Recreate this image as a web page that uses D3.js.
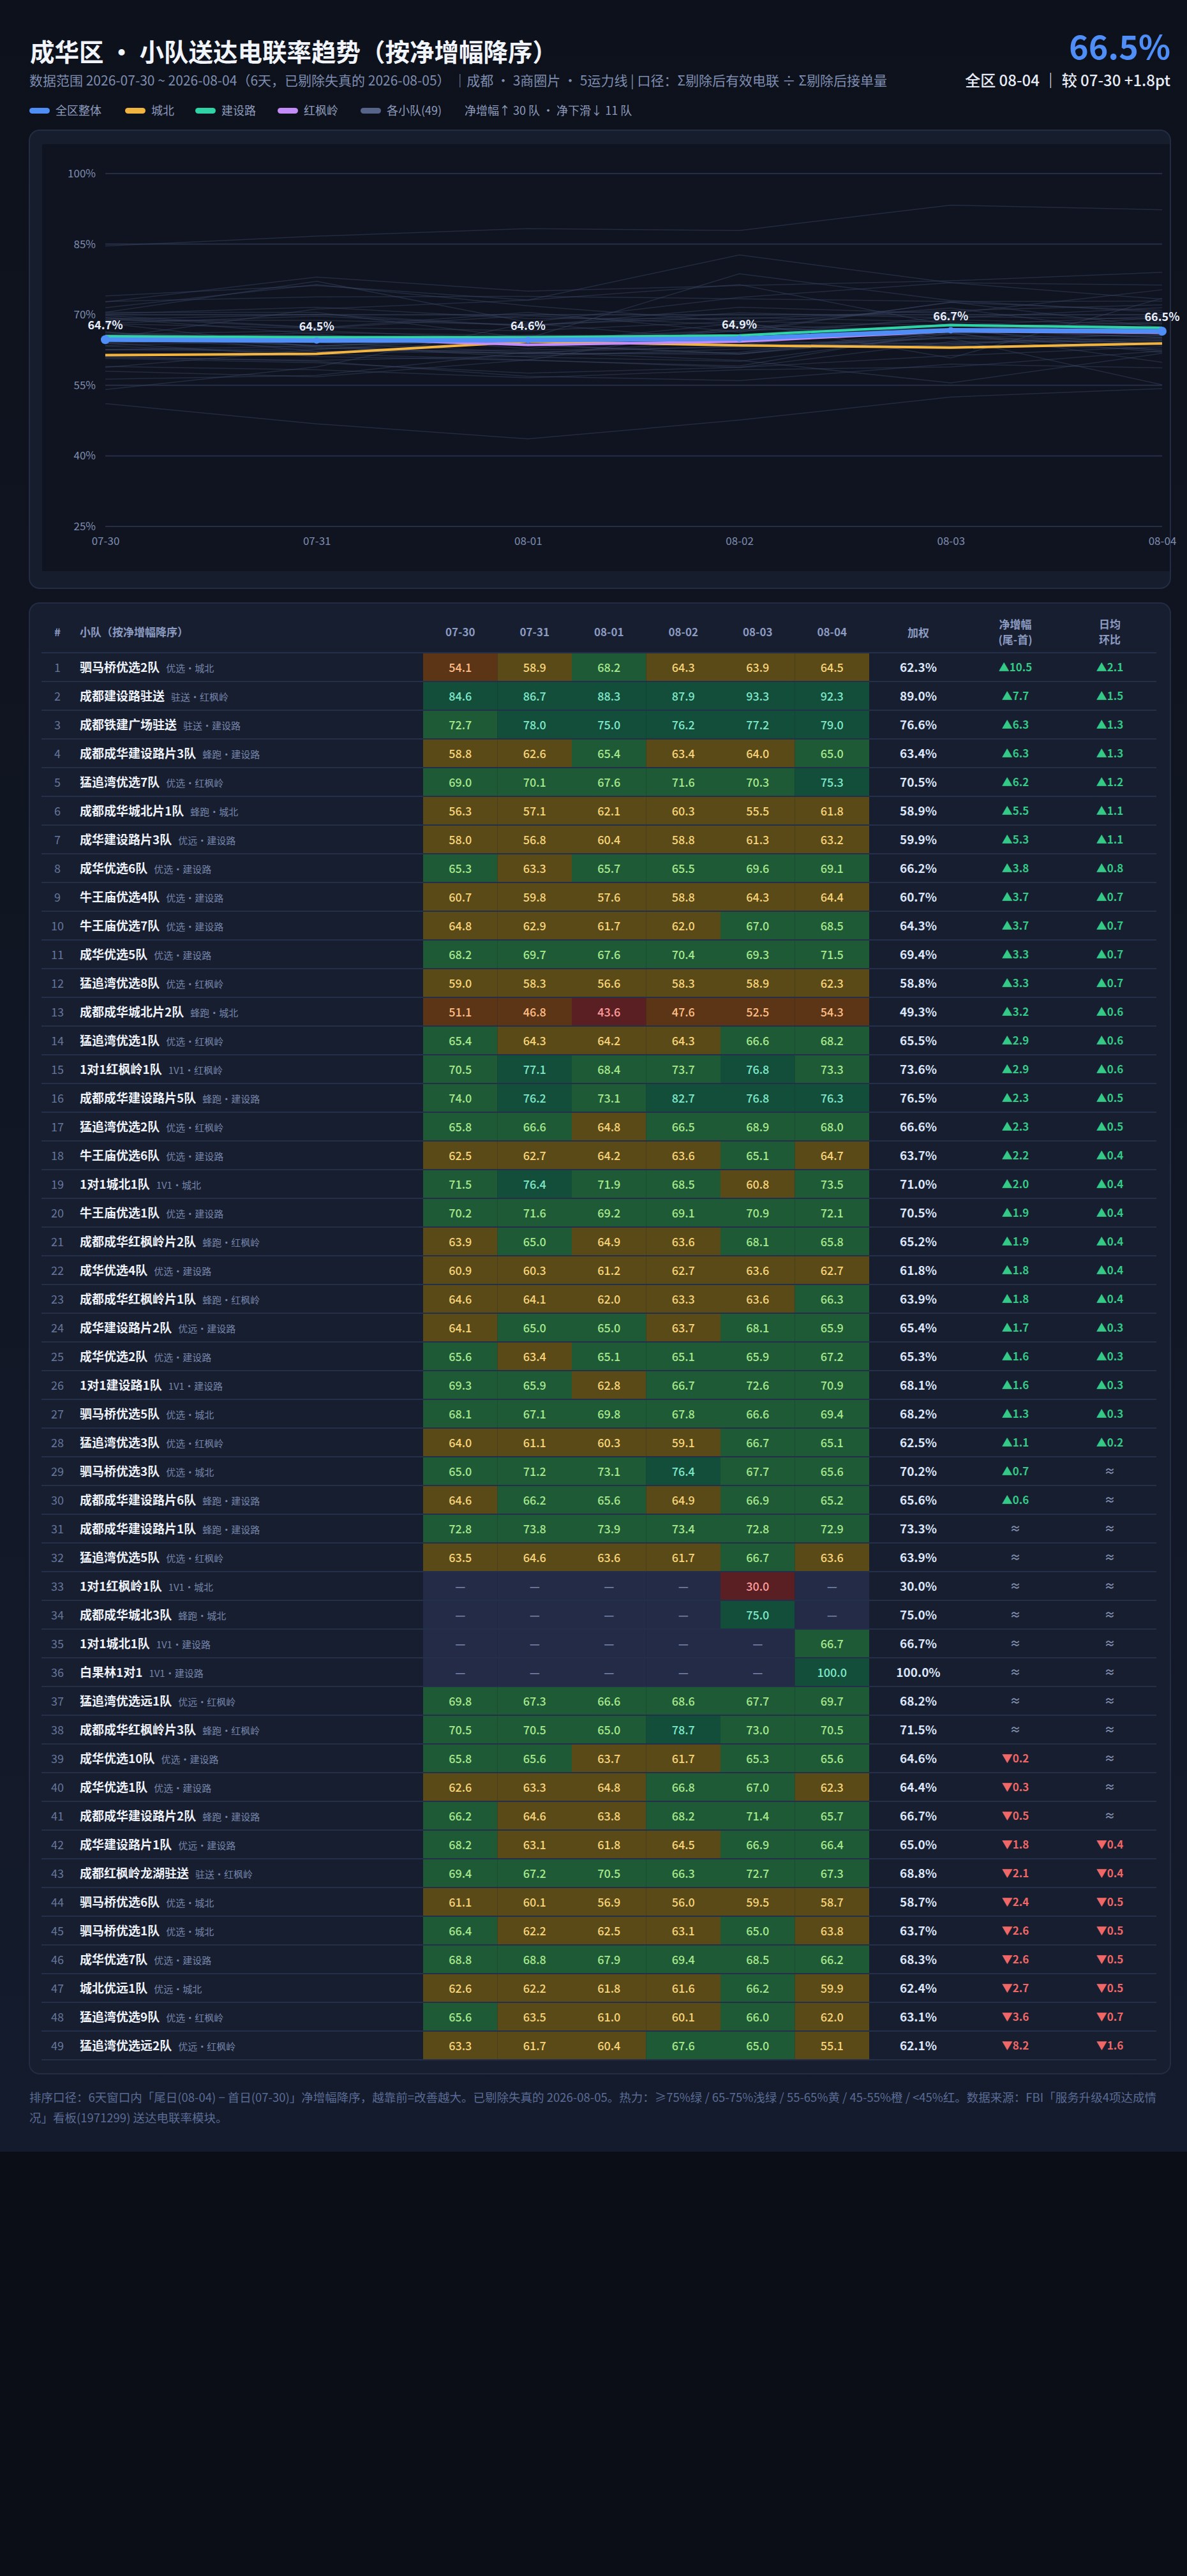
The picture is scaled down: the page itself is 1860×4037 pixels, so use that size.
<!DOCTYPE html>
<html>
<head>
<meta charset="utf-8">
<script src="https://cdn.jsdelivr.net/npm/d3@7"></script>
<style>
  html, body { margin: 0; padding: 0; background: #0b0e16; }
  svg { display: block; font-family: "Noto Sans CJK SC", "Noto Sans", sans-serif; }
</style>
</head>
<body>
<div id="page"></div>
<script>
// ---- data ----
const dates = ['07-30', '07-31', '08-01', '08-02', '08-03', '08-04'];
const overall = [64.7, 64.5, 64.6, 64.9, 66.7, 66.5];
const regionNames = ['城北', '建设路', '红枫岭'];
const regionChengbei = [61.4, 61.7, 64.3, 63.5, 63.0, 63.9];
const regionJianshelu = [65.4, 65.2, 65.2, 65.6, 67.8, 67.2];
const regionHongfengling = [65.2, 65.0, 63.6, 64.3, 66.5, 66.2];
const yTicks = [25, 40, 55, 70, 85, 100];

const teamNames = [
  '驷马桥优选2队', '成都建设路驻送', '成都铁建广场驻送', '成都成华建设路片3队', '猛追湾优选7队',
  '成都成华城北片1队', '成华建设路片3队', '成华优选6队', '牛王庙优选4队', '牛王庙优选7队',
  '成华优选5队', '猛追湾优选8队', '成都成华城北片2队', '猛追湾优选1队', '1对1红枫岭1队',
  '成都成华建设路片5队', '猛追湾优选2队', '牛王庙优选6队', '1对1城北1队', '牛王庙优选1队',
  '成都成华红枫岭片2队', '成华优选4队', '成都成华红枫岭片1队', '成华建设路片2队', '成华优选2队',
  '1对1建设路1队', '驷马桥优选5队', '猛追湾优选3队', '驷马桥优选3队', '成都成华建设路片6队',
  '成都成华建设路片1队', '猛追湾优选5队', '1对1红枫岭1队', '成都成华城北3队', '1对1城北1队',
  '白果林1对1', '猛追湾优选远1队', '成都成华红枫岭片3队', '成华优选10队', '成华优选1队',
  '成都成华建设路片2队', '成华建设路片1队', '成都红枫岭龙湖驻送', '驷马桥优选6队', '驷马桥优选1队',
  '成华优选7队', '城北优远1队', '猛追湾优选9队', '猛追湾优选远2队'
];
const teamTags = [
  '优选·城北', '驻送·红枫岭', '驻送·建设路', '蜂跑·建设路', '优选·红枫岭',
  '蜂跑·城北', '优远·建设路', '优选·建设路', '优选·建设路', '优选·建设路',
  '优选·建设路', '优选·红枫岭', '蜂跑·城北', '优选·红枫岭', '1V1·红枫岭',
  '蜂跑·建设路', '优选·红枫岭', '优选·建设路', '1V1·城北', '优选·建设路',
  '蜂跑·红枫岭', '优选·建设路', '蜂跑·红枫岭', '优远·建设路', '优选·建设路',
  '1V1·建设路', '优选·城北', '优选·红枫岭', '优选·城北', '蜂跑·建设路',
  '蜂跑·建设路', '优选·红枫岭', '1V1·城北', '蜂跑·城北', '1V1·建设路',
  '1V1·建设路', '优远·红枫岭', '蜂跑·红枫岭', '优选·建设路', '优选·建设路',
  '蜂跑·建设路', '优远·建设路', '驻送·红枫岭', '优选·城北', '优选·城北',
  '优选·建设路', '优远·城北', '优选·红枫岭', '优远·红枫岭'
];
const teamRates = [
  [54.1, 58.9, 68.2, 64.3, 63.9, 64.5],
  [84.6, 86.7, 88.3, 87.9, 93.3, 92.3],
  [72.7, 78.0, 75.0, 76.2, 77.2, 79.0],
  [58.8, 62.6, 65.4, 63.4, 64.0, 65.0],
  [69.0, 70.1, 67.6, 71.6, 70.3, 75.3],
  [56.3, 57.1, 62.1, 60.3, 55.5, 61.8],
  [58.0, 56.8, 60.4, 58.8, 61.3, 63.2],
  [65.3, 63.3, 65.7, 65.5, 69.6, 69.1],
  [60.7, 59.8, 57.6, 58.8, 64.3, 64.4],
  [64.8, 62.9, 61.7, 62.0, 67.0, 68.5],
  [68.2, 69.7, 67.6, 70.4, 69.3, 71.5],
  [59.0, 58.3, 56.6, 58.3, 58.9, 62.3],
  [51.1, 46.8, 43.6, 47.6, 52.5, 54.3],
  [65.4, 64.3, 64.2, 64.3, 66.6, 68.2],
  [70.5, 77.1, 68.4, 73.7, 76.8, 73.3],
  [74.0, 76.2, 73.1, 82.7, 76.8, 76.3],
  [65.8, 66.6, 64.8, 66.5, 68.9, 68.0],
  [62.5, 62.7, 64.2, 63.6, 65.1, 64.7],
  [71.5, 76.4, 71.9, 68.5, 60.8, 73.5],
  [70.2, 71.6, 69.2, 69.1, 70.9, 72.1],
  [63.9, 65.0, 64.9, 63.6, 68.1, 65.8],
  [60.9, 60.3, 61.2, 62.7, 63.6, 62.7],
  [64.6, 64.1, 62.0, 63.3, 63.6, 66.3],
  [64.1, 65.0, 65.0, 63.7, 68.1, 65.9],
  [65.6, 63.4, 65.1, 65.1, 65.9, 67.2],
  [69.3, 65.9, 62.8, 66.7, 72.6, 70.9],
  [68.1, 67.1, 69.8, 67.8, 66.6, 69.4],
  [64.0, 61.1, 60.3, 59.1, 66.7, 65.1],
  [65.0, 71.2, 73.1, 76.4, 67.7, 65.6],
  [64.6, 66.2, 65.6, 64.9, 66.9, 65.2],
  [72.8, 73.8, 73.9, 73.4, 72.8, 72.9],
  [63.5, 64.6, 63.6, 61.7, 66.7, 63.6],
  [null, null, null, null, 30.0, null],
  [null, null, null, null, 75.0, null],
  [null, null, null, null, null, 66.7],
  [null, null, null, null, null, 100.0],
  [69.8, 67.3, 66.6, 68.6, 67.7, 69.7],
  [70.5, 70.5, 65.0, 78.7, 73.0, 70.5],
  [65.8, 65.6, 63.7, 61.7, 65.3, 65.6],
  [62.6, 63.3, 64.8, 66.8, 67.0, 62.3],
  [66.2, 64.6, 63.8, 68.2, 71.4, 65.7],
  [68.2, 63.1, 61.8, 64.5, 66.9, 66.4],
  [69.4, 67.2, 70.5, 66.3, 72.7, 67.3],
  [61.1, 60.1, 56.9, 56.0, 59.5, 58.7],
  [66.4, 62.2, 62.5, 63.1, 65.0, 63.8],
  [68.8, 68.8, 67.9, 69.4, 68.5, 66.2],
  [62.6, 62.2, 61.8, 61.6, 66.2, 59.9],
  [65.6, 63.5, 61.0, 60.1, 66.0, 62.0],
  [63.3, 61.7, 60.4, 67.6, 65.0, 55.1]
];
const teamWeighted = [
  62.3, 89.0, 76.6, 63.4, 70.5, 58.9, 59.9, 66.2, 60.7, 64.3,
  69.4, 58.8, 49.3, 65.5, 73.6, 76.5, 66.6, 63.7, 71.0, 70.5,
  65.2, 61.8, 63.9, 65.4, 65.3, 68.1, 68.2, 62.5, 70.2, 65.6,
  73.3, 63.9, 30.0, 75.0, 66.7, 100.0, 68.2, 71.5, 64.6, 64.4,
  66.7, 65.0, 68.8, 58.7, 63.7, 68.3, 62.4, 63.1, 62.1
];
// 0 = shown as ≈
const teamNet = [
  10.5, 7.7, 6.3, 6.3, 6.2, 5.5, 5.3, 3.8, 3.7, 3.7,
  3.3, 3.3, 3.2, 2.9, 2.9, 2.3, 2.3, 2.2, 2.0, 1.9,
  1.9, 1.8, 1.8, 1.7, 1.6, 1.6, 1.3, 1.1, 0.7, 0.6,
  0, 0, 0, 0, 0, 0, 0, 0, -0.2, -0.3,
  -0.5, -1.8, -2.1, -2.4, -2.6, -2.6, -2.7, -3.6, -8.2
];
const teamDaily = [
  2.1, 1.5, 1.3, 1.3, 1.2, 1.1, 1.1, 0.8, 0.7, 0.7,
  0.7, 0.7, 0.6, 0.6, 0.6, 0.5, 0.5, 0.4, 0.4, 0.4,
  0.4, 0.4, 0.4, 0.3, 0.3, 0.3, 0.3, 0.2, 0, 0,
  0, 0, 0, 0, 0, 0, 0, 0, 0, 0,
  0, -0.4, -0.4, -0.5, -0.5, -0.5, -0.5, -0.7, -1.6
];

// ---- page ----
const width = 1860;
const height = 4037;
const pageBottom = 3372;
const cardLeft = 46;
const cardRight = 1834;

const svg = d3
  .select('#page')
  .append('svg')
  .attr('width', width)
  .attr('height', height);

const defs = svg.append('defs');
const bgGrad = defs
  .append('linearGradient')
  .attr('id', 'pageBg')
  .attr('x1', 0).attr('y1', 0).attr('x2', 0).attr('y2', 1);
bgGrad.append('stop').attr('offset', '0%').attr('stop-color', '#0d111b');
bgGrad.append('stop').attr('offset', '100%').attr('stop-color', '#141b2c');

svg.append('rect').attr('width', width).attr('height', height).attr('fill', '#0b0e16');
svg.append('rect').attr('width', width).attr('height', pageBottom).attr('fill', 'url(#pageBg)');

// header
svg.append('text')
  .attr('x', 47).attr('y', 96)
  .style('font-size', '38.5px').style('font-weight', 700)
  .attr('fill', '#f1f4fb')
  .text('成华区 · 小队送达电联率趋势（按净增幅降序）');

svg.append('text')
  .attr('x', 46).attr('y', 134)
  .style('font-size', '21px')
  .attr('fill', '#7e8db0')
  .text('数据范围 2026-07-30 ~ 2026-08-04（6天，已剔除失真的 2026-08-05） ｜成都 · 3商圈片 · 5运力线 | 口径：Σ剔除后有效电联 ÷ Σ剔除后接单量');

svg.append('text')
  .attr('x', cardRight).attr('y', 93)
  .attr('text-anchor', 'end')
  .style('font-size', '52px').style('font-weight', 700)
  .attr('fill', '#4f8ef7')
  .text(`${overall[overall.length - 1].toFixed(1)}%`);

const diff = overall[overall.length - 1] - overall[0];
svg.append('text')
  .attr('x', cardRight).attr('y', 135)
  .attr('text-anchor', 'end')
  .style('font-size', '24px').style('font-weight', 500)
  .attr('fill', '#e6ebf5')
  .text(`全区 ${dates[dates.length - 1]} ｜ 较 ${dates[0]} ${diff >= 0 ? '+' : ''}${diff.toFixed(1)}pt`);

// legend
const seriesColors = {
  overall: '#4f8ef7',
  城北: '#f2b441',
  建设路: '#2fd3a6',
  红枫岭: '#c38cf8',
  team: '#56648a'
};
const upCount = teamNet.filter((d) => d > 0).length;
const downCount = teamNet.filter((d) => d < 0).length;
const legendItems = [
  { label: '全区整体', color: seriesColors.overall, x: 46 },
  { label: regionNames[0], color: seriesColors[regionNames[0]], x: 196 },
  { label: regionNames[1], color: seriesColors[regionNames[1]], x: 306 },
  { label: regionNames[2], color: seriesColors[regionNames[2]], x: 435 },
  { label: `各小队(${teamNames.length})`, color: seriesColors.team, x: 565 }
];
const legend = svg.append('g');
legendItems.forEach((item) => {
  legend.append('rect')
    .attr('x', item.x).attr('y', 169)
    .attr('width', 32).attr('height', 9).attr('rx', 4.5)
    .attr('fill', item.color);
  legend.append('text')
    .attr('x', item.x + 41).attr('y', 180)
    .style('font-size', '18px')
    .attr('fill', '#8d9bbd')
    .text(item.label);
});
legend.append('text')
  .attr('x', 728).attr('y', 180)
  .style('font-size', '18px')
  .attr('fill', '#8d9bbd')
  .text(`净增幅↑ ${upCount} 队 · 净下滑↓ ${downCount} 队`);

// ---- trend chart ----
svg.append('rect')
  .attr('x', cardLeft).attr('y', 204)
  .attr('width', cardRight - cardLeft).attr('height', 718)
  .attr('rx', 16)
  .attr('fill', '#161d2d')
  .attr('stroke', '#232c43').attr('stroke-width', 2);
svg.append('rect')
  .attr('x', 66).attr('y', 226)
  .attr('width', cardRight - 1 - 66).attr('height', 669)
  .attr('fill', '#0f1420');

const xScale = d3.scalePoint().domain(dates).range([165, 1821]);
const yScale = d3.scaleLinear().domain([25, 100]).range([825, 272]);

const grid = svg.append('g');
grid.selectAll('line')
  .data(yTicks)
  .enter()
  .append('line')
  .attr('x1', 165).attr('x2', 1821)
  .attr('y1', (d) => yScale(d)).attr('y2', (d) => yScale(d))
  .attr('stroke', '#252e45').attr('stroke-width', 2);

const yAxis = d3.axisLeft(yScale).tickValues(yTicks).tickFormat((d) => `${d}%`).tickSize(0).tickPadding(0);
const yAxisGroup = svg.append('g').attr('transform', 'translate(150,0)').call(yAxis);
yAxisGroup.select('.domain').remove();
yAxisGroup.selectAll('text')
  .style('font-size', '17px')
  .style('font-family', '"Noto Sans CJK SC", "Noto Sans", sans-serif')
  .attr('fill', '#7f8db0');

const xAxis = d3.axisBottom(xScale).tickSize(0).tickPadding(0);
const xAxisGroup = svg.append('g').attr('transform', 'translate(0,842)').call(xAxis);
xAxisGroup.select('.domain').remove();
xAxisGroup.selectAll('text')
  .style('font-size', '17px')
  .style('font-family', '"Noto Sans CJK SC", "Noto Sans", sans-serif')
  .attr('fill', '#7f8db0');

const line = d3
  .line()
  .defined((d) => d != null)
  .x((d, i) => xScale(dates[i]))
  .y((d) => yScale(d));

svg.append('g')
  .selectAll('path')
  .data(teamRates)
  .enter()
  .append('path')
  .attr('d', (d) => line(d))
  .attr('fill', 'none')
  .attr('stroke', '#3b4766')
  .attr('stroke-opacity', 0.45)
  .attr('stroke-width', 1.5);

const regionSeries = [
  { name: regionNames[0], values: regionChengbei },
  { name: regionNames[2], values: regionHongfengling },
  { name: regionNames[1], values: regionJianshelu }
];
svg.append('g')
  .selectAll('path')
  .data(regionSeries)
  .enter()
  .append('path')
  .attr('d', (d) => line(d.values))
  .attr('fill', 'none')
  .attr('stroke', (d) => seriesColors[d.name])
  .attr('stroke-width', 4)
  .attr('stroke-linejoin', 'round');

svg.append('path')
  .attr('d', line(overall))
  .attr('fill', 'none')
  .attr('stroke', seriesColors.overall)
  .attr('stroke-width', 7)
  .attr('stroke-linejoin', 'round');

svg.append('g')
  .selectAll('circle')
  .data(overall)
  .enter()
  .append('circle')
  .attr('cx', (d, i) => xScale(dates[i]))
  .attr('cy', (d) => yScale(d))
  .attr('r', (d, i) => (i === 0 || i === overall.length - 1 ? 7 : 5))
  .attr('fill', seriesColors.overall);

svg.append('g')
  .selectAll('text')
  .data(overall)
  .enter()
  .append('text')
  .attr('x', (d, i) => xScale(dates[i]))
  .attr('y', (d) => yScale(d) - 16)
  .attr('text-anchor', 'middle')
  .style('font-size', '18px').style('font-weight', 700)
  .attr('fill', '#e8eefb')
  .text((d) => `${d.toFixed(1)}%`);

// ---- table ----
const tableTop = 1023;
const rowH = 45;
const lineLeft = 65;
const lineRight = 1812;
svg.append('rect')
  .attr('x', cardLeft).attr('y', 945)
  .attr('width', cardRight - cardLeft).attr('height', 2305)
  .attr('rx', 16)
  .attr('fill', '#171e2f')
  .attr('stroke', '#232c43').attr('stroke-width', 2);

const colX = d3.scaleBand().domain(dates).range([663, 1362]);
const rowY = d3.scaleBand().domain(d3.range(teamNames.length)).range([tableTop, tableTop + rowH * teamNames.length]);
const colWeighted = 1439;
const colNet = 1591;
const colDaily = 1739;

const heatBg = d3.scaleThreshold().domain([45, 55, 65, 75]).range(['#5a1f22', '#5c3416', '#5a4a18', '#1f5a36', '#134e3b']);
const heatFg = d3.scaleThreshold().domain([45, 55, 65, 75]).range(['#ff9c9c', '#ffbd85', '#f7d47a', '#a6e88c', '#7fe8c9']);

const header = svg.append('g')
  .style('font-size', '17px').style('font-weight', 700)
  .attr('fill', '#8c9bc2');
header.append('text').attr('x', 90).attr('y', 997).attr('text-anchor', 'middle').text('#');
header.append('text').attr('x', 125).attr('y', 997).text('小队（按净增幅降序）');
dates.forEach((d) => {
  header.append('text')
    .attr('x', colX(d) + colX.bandwidth() / 2).attr('y', 997)
    .attr('text-anchor', 'middle')
    .text(d);
});
header.append('text').attr('x', colWeighted).attr('y', 998).attr('text-anchor', 'middle').text('加权');
header.append('text').attr('x', colNet).attr('y', 985).attr('text-anchor', 'middle').text('净增幅');
header.append('text').attr('x', colNet).attr('y', 1009).attr('text-anchor', 'middle').text('(尾-首)');
header.append('text').attr('x', colDaily).attr('y', 985).attr('text-anchor', 'middle').text('日均');
header.append('text').attr('x', colDaily).attr('y', 1009).attr('text-anchor', 'middle').text('环比');

svg.append('g')
  .selectAll('line')
  .data(d3.range(teamNames.length + 1))
  .enter()
  .append('line')
  .attr('x1', lineLeft).attr('x2', lineRight)
  .attr('y1', (d) => tableTop + d * rowH).attr('y2', (d) => tableTop + d * rowH)
  .attr('stroke', '#243049').attr('stroke-width', 2);

const rows = svg.append('g')
  .selectAll('g')
  .data(teamNames.map((name, i) => ({
    i, name, tag: teamTags[i], rates: teamRates[i],
    weighted: teamWeighted[i], net: teamNet[i], daily: teamDaily[i]
  })))
  .enter()
  .append('g')
  .attr('transform', (d) => `translate(0,${rowY(d.i)})`);

rows.selectAll('rect.cell')
  .data((d) => d.rates.map((v, j) => ({ v, date: dates[j] })))
  .enter()
  .append('rect')
  .attr('class', 'cell')
  .attr('x', (d) => colX(d.date))
  .attr('y', 1)
  .attr('width', colX.bandwidth())
  .attr('height', rowH - 2)
  .attr('fill', (d) => (d.v == null ? '#232b47' : heatBg(d.v)));

rows.selectAll('text.cell')
  .data((d) => d.rates.map((v, j) => ({ v, date: dates[j] })))
  .enter()
  .append('text')
  .attr('class', 'cell')
  .attr('x', (d) => colX(d.date) + colX.bandwidth() / 2)
  .attr('y', rowH / 2 + 7)
  .attr('text-anchor', 'middle')
  .style('font-size', '18px').style('font-weight', 500)
  .attr('fill', (d) => (d.v == null ? '#7a86a8' : heatFg(d.v)))
  .text((d) => (d.v == null ? '—' : d.v.toFixed(1)));

rows.append('text')
  .attr('x', 90).attr('y', rowH / 2 + 7)
  .attr('text-anchor', 'middle')
  .style('font-size', '18px')
  .attr('fill', '#66769c')
  .text((d) => d.i + 1);

const nameText = rows.append('text')
  .attr('x', 125).attr('y', rowH / 2 + 7);
nameText.append('tspan')
  .style('font-size', '19px').style('font-weight', 700)
  .attr('fill', '#eef2fa')
  .text((d) => d.name);
nameText.append('tspan')
  .attr('dx', 10)
  .style('font-size', '15px')
  .attr('fill', '#7585ab')
  .text((d) => d.tag);

rows.append('text')
  .attr('x', colWeighted).attr('y', rowH / 2 + 7)
  .attr('text-anchor', 'middle')
  .style('font-size', '19px').style('font-weight', 700)
  .attr('fill', '#dce6fb')
  .text((d) => `${d.weighted.toFixed(1)}%`);

const arrowText = (v) => (v === 0 ? '≈' : `${v > 0 ? '▲' : '▼'}${Math.abs(v).toFixed(1)}`);
const arrowColor = (v) => (v === 0 ? '#7f8cad' : v > 0 ? '#34c987' : '#f06767');

rows.append('text')
  .attr('x', colNet).attr('y', rowH / 2 + 6)
  .attr('text-anchor', 'middle')
  .style('font-size', '17px').style('font-weight', 700)
  .attr('fill', (d) => arrowColor(d.net))
  .text((d) => arrowText(d.net));

rows.append('text')
  .attr('x', colDaily).attr('y', rowH / 2 + 6)
  .attr('text-anchor', 'middle')
  .style('font-size', '17px').style('font-weight', 700)
  .attr('fill', (d) => arrowColor(d.daily))
  .text((d) => arrowText(d.daily));

// ---- footer ----
const footer = svg.append('text')
  .attr('x', 46).attr('y', 3294)
  .style('font-size', '18.5px')
  .attr('fill', '#5a6b95');
footer.append('tspan')
  .attr('x', 46)
  .text('排序口径：6天窗口内「尾日(08-04) − 首日(07-30)」净增幅降序，越靠前=改善越大。已剔除失真的 2026-08-05。热力：≥75%绿 / 65-75%浅绿 / 55-65%黄 / 45-55%橙 / <45%红。数据来源：FBI「服务升级4项达成情');
footer.append('tspan')
  .attr('x', 46).attr('dy', 32)
  .text('况」看板(1971299) 送达电联率模块。');
</script>
</body>
</html>
